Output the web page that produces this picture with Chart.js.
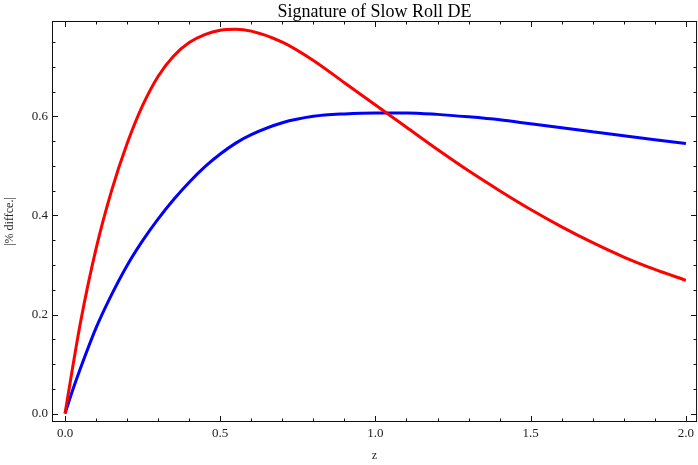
<!DOCTYPE html>
<html>
<head>
<meta charset="utf-8">
<script src="https://cdn.jsdelivr.net/npm/chart.js@4/dist/chart.umd.min.js"></script>
<style>
  html, body { margin: 0; padding: 0; background: #fff; }
  #wrap { width: 698px; height: 465px; }
</style>
</head>
<body>
<div id="wrap"><canvas id="sigChart"></canvas></div>
<script>
// z values (redshift) and |% difference|
const zValues = [0, 0.025, 0.05, 0.1, 0.15, 0.2, 0.25, 0.3, 0.35, 0.4, 0.45, 0.5, 0.55, 0.6, 0.7, 0.8, 0.9, 1.0, 1.1, 1.2, 1.3, 1.4, 1.5, 1.6, 1.7, 1.8, 1.9, 2.0];
const redValues = [0, 0.095, 0.185, 0.333, 0.450, 0.545, 0.622, 0.681, 0.722, 0.749, 0.765, 0.774, 0.776, 0.772, 0.750, 0.713, 0.668, 0.623, 0.578, 0.533, 0.490, 0.450, 0.412, 0.377, 0.345, 0.316, 0.291, 0.269];
const blueValues = [0, 0.048, 0.092, 0.173, 0.240, 0.299, 0.349, 0.393, 0.432, 0.467, 0.498, 0.524, 0.546, 0.563, 0.587, 0.600, 0.605, 0.607, 0.607, 0.604, 0.599, 0.593, 0.585, 0.577, 0.569, 0.561, 0.553, 0.545];

// tick labels
const xTicks = [0, 0.5, 1.0, 1.5, 2.0];
const yTicks = [0, 0.2, 0.4, 0.6];

const titleText = 'Signature of Slow Roll DE';
const serif = "'Liberation Serif', 'DejaVu Serif', serif";

function toPoints(xs, ys) {
    return xs.map((x, i) => ({ x: x, y: ys[i] }));
}

// Mathematica-style frame with inward ticks on all four sides, title over the frame
const framePlugin = {
    id: 'frame',
    afterDraw(chart) {
        const { ctx, chartArea: a, scales } = chart;
        const xs = scales.x, ys = scales.y;
        ctx.save();
        ctx.strokeStyle = '#111';
        ctx.lineWidth = 1;
        ctx.strokeRect(a.left + 0.5, a.top + 0.5, a.right - a.left - 1, a.bottom - a.top - 1);

        ctx.beginPath();
        for (let i = 0; i <= 20; i++) {
            const v = i / 10;
            const len = (i % 5 === 0) ? 6 : 3.5;
            const px = Math.round(xs.getPixelForValue(v)) + 0.5;
            ctx.moveTo(px, a.bottom); ctx.lineTo(px, a.bottom - len);
            ctx.moveTo(px, a.top); ctx.lineTo(px, a.top + len);
        }
        for (let i = 0; i <= 15; i++) {
            const v = i * 0.05;
            const len = (i % 4 === 0) ? 6 : 3.5;
            const py = Math.round(ys.getPixelForValue(v)) + 0.5;
            ctx.moveTo(a.left, py); ctx.lineTo(a.left + len, py);
            ctx.moveTo(a.right, py); ctx.lineTo(a.right - len, py);
        }
        ctx.stroke();

        ctx.fillStyle = '#000';
        ctx.font = '18px ' + serif;
        ctx.textAlign = 'center';
        ctx.textBaseline = 'alphabetic';
        ctx.fillText(titleText, (a.left + a.right) / 2, 17);
        ctx.restore();
    }
};

const ctx = document.getElementById('sigChart').getContext('2d');
const sigChart = new Chart(ctx, {
    type: 'scatter',
    data: {
        datasets: [
            {
                label: 'red',
                data: toPoints(zValues, redValues),
                showLine: true,
                borderColor: '#ff0000',
                borderWidth: 3,
                pointRadius: 0,
                cubicInterpolationMode: 'monotone'
            },
            {
                label: 'blue',
                data: toPoints(zValues, blueValues),
                showLine: true,
                borderColor: '#0000ff',
                borderWidth: 3,
                pointRadius: 0,
                cubicInterpolationMode: 'monotone'
            }
        ]
    },
    options: {
        responsive: true,
        maintainAspectRatio: false,
        animation: false,
        layout: { padding: { top: 21, right: 0, bottom: 0, left: 0 } },
        plugins: {
            legend: { display: false },
            tooltip: { enabled: false },
            title: { display: false }
        },
        scales: {
            x: {
                type: 'linear',
                min: -0.042,
                max: 2.036,
                grid: { display: false, drawTicks: false },
                border: { display: false },
                afterBuildTicks: (scale) => { scale.ticks = xTicks.map(v => ({ value: v })); },
                afterFit: (scale) => { scale.height = 43; },
                ticks: {
                    color: '#222',
                    padding: 4,
                    font: { family: serif, size: 13 },
                    callback: (v) => Number(v).toFixed(1)
                },
                title: {
                    display: true,
                    text: 'z',
                    color: '#222',
                    font: { family: serif, size: 12 },
                    padding: { top: 0, bottom: 2 }
                }
            },
            y: {
                type: 'linear',
                min: -0.017,
                max: 0.7925,
                grid: { display: false, drawTicks: false },
                border: { display: false },
                afterBuildTicks: (scale) => { scale.ticks = yTicks.map(v => ({ value: v })); },
                afterFit: (scale) => { scale.width = 52; },
                ticks: {
                    color: '#222',
                    padding: 4,
                    font: { family: serif, size: 13 },
                    callback: (v) => Number(v).toFixed(1)
                },
                title: {
                    display: true,
                    text: '|% diffce.|',
                    color: '#222',
                    font: { family: serif, size: 12 },
                    padding: { top: 3, bottom: 0 }
                }
            }
        }
    },
    plugins: [framePlugin]
});
</script>
</body>
</html>
